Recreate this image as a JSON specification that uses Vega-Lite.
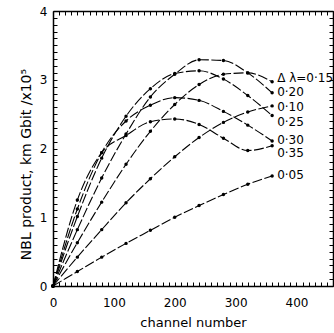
{
  "$schema": "https://vega.github.io/schema/vega-lite/v6.json",
  "width": 280,
  "height": 275,
  "autosize": {"type": "none"},
  "padding": {"left": 53, "top": 11, "right": 1, "bottom": 47},
  "background": "white",
  "config": {
    "view": {"stroke": null},
    "font": "DejaVu Sans",
    "axis": {
      "domainColor": "black",
      "domainWidth": 1.5,
      "tickColor": "black",
      "tickWidth": 1,
      "labelColor": "black",
      "titleColor": "black",
      "labelFont": "DejaVu Sans",
      "titleFont": "DejaVu Sans",
      "labelFontSize": 12,
      "titleFontWeight": "normal",
      "labelOverlap": false,
      "labelFlush": false,
      "grid": false
    }
  },
  "datasets": {
    "curves": [
      {"s": "0.05", "x": 0, "y": 0}, {"s": "0.05", "x": 40, "y": 0.21}, {"s": "0.05", "x": 80, "y": 0.42}, {"s": "0.05", "x": 120, "y": 0.62}, {"s": "0.05", "x": 160, "y": 0.81}, {"s": "0.05", "x": 200, "y": 1.0}, {"s": "0.05", "x": 240, "y": 1.17}, {"s": "0.05", "x": 280, "y": 1.33}, {"s": "0.05", "x": 320, "y": 1.48}, {"s": "0.05", "x": 360, "y": 1.6},
      {"s": "0.10", "x": 0, "y": 0}, {"s": "0.10", "x": 40, "y": 0.42}, {"s": "0.10", "x": 80, "y": 0.82}, {"s": "0.10", "x": 120, "y": 1.21}, {"s": "0.10", "x": 160, "y": 1.56}, {"s": "0.10", "x": 200, "y": 1.88}, {"s": "0.10", "x": 240, "y": 2.16}, {"s": "0.10", "x": 280, "y": 2.38}, {"s": "0.10", "x": 320, "y": 2.53}, {"s": "0.10", "x": 360, "y": 2.62},
      {"s": "0.15", "x": 0, "y": 0}, {"s": "0.15", "x": 40, "y": 0.63}, {"s": "0.15", "x": 80, "y": 1.22}, {"s": "0.15", "x": 120, "y": 1.77}, {"s": "0.15", "x": 160, "y": 2.25}, {"s": "0.15", "x": 200, "y": 2.64}, {"s": "0.15", "x": 240, "y": 2.93}, {"s": "0.15", "x": 280, "y": 3.08}, {"s": "0.15", "x": 320, "y": 3.1}, {"s": "0.15", "x": 360, "y": 2.97},
      {"s": "0.20", "x": 0, "y": 0}, {"s": "0.20", "x": 40, "y": 0.82}, {"s": "0.20", "x": 80, "y": 1.57}, {"s": "0.20", "x": 120, "y": 2.21}, {"s": "0.20", "x": 160, "y": 2.75}, {"s": "0.20", "x": 200, "y": 3.08}, {"s": "0.20", "x": 240, "y": 3.29}, {"s": "0.20", "x": 280, "y": 3.28}, {"s": "0.20", "x": 320, "y": 3.1}, {"s": "0.20", "x": 360, "y": 2.81},
      {"s": "0.25", "x": 0, "y": 0}, {"s": "0.25", "x": 40, "y": 1.01}, {"s": "0.25", "x": 80, "y": 1.86}, {"s": "0.25", "x": 120, "y": 2.47}, {"s": "0.25", "x": 160, "y": 2.87}, {"s": "0.25", "x": 200, "y": 3.09}, {"s": "0.25", "x": 240, "y": 3.13}, {"s": "0.25", "x": 280, "y": 3.01}, {"s": "0.25", "x": 320, "y": 2.77}, {"s": "0.25", "x": 360, "y": 2.48},
      {"s": "0.30", "x": 0, "y": 0}, {"s": "0.30", "x": 40, "y": 1.12}, {"s": "0.30", "x": 80, "y": 1.94}, {"s": "0.30", "x": 120, "y": 2.4}, {"s": "0.30", "x": 160, "y": 2.63}, {"s": "0.30", "x": 200, "y": 2.74}, {"s": "0.30", "x": 240, "y": 2.7}, {"s": "0.30", "x": 280, "y": 2.54}, {"s": "0.30", "x": 320, "y": 2.34}, {"s": "0.30", "x": 360, "y": 2.11},
      {"s": "0.35", "x": 0, "y": 0}, {"s": "0.35", "x": 40, "y": 1.25}, {"s": "0.35", "x": 80, "y": 1.94}, {"s": "0.35", "x": 120, "y": 2.19}, {"s": "0.35", "x": 160, "y": 2.39}, {"s": "0.35", "x": 200, "y": 2.43}, {"s": "0.35", "x": 240, "y": 2.35}, {"s": "0.35", "x": 280, "y": 2.15}, {"s": "0.35", "x": 320, "y": 1.97}, {"s": "0.35", "x": 360, "y": 2.04}
    ],
    "labels": [
      {"s": "0.15", "t": "Δ λ=0·15", "x": 360, "y": 3.03},
      {"s": "0.20", "t": "0·20", "x": 360, "y": 2.82},
      {"s": "0.10", "t": "0·10", "x": 360, "y": 2.6},
      {"s": "0.25", "t": "0·25", "x": 360, "y": 2.39},
      {"s": "0.30", "t": "0·30", "x": 360, "y": 2.13},
      {"s": "0.35", "t": "0·35", "x": 360, "y": 1.94},
      {"s": "0.05", "t": "0·05", "x": 360, "y": 1.61}
    ]
  },
  "layer": [
    {
      "data": {"name": "curves"},
      "mark": {"type": "line", "color": "black", "strokeWidth": 1.1, "interpolate": "monotone", "strokeDash": [10, 2.5]},
      "encoding": {
        "x": {"field": "x", "type": "quantitative", "scale": {"domain": [0, 460], "nice": false, "zero": true},
          "axis": {"orient": "top", "offset": -275, "title": "channel number", "titleFontSize": 13, "titleY": 40, "titleBaseline": "alphabetic",
            "values": [0,10,20,30,40,50,60,70,80,90,100,110,120,130,140,150,160,170,180,190,200,210,220,230,240,250,260,270,280,290,300,310,320,330,340,350,360,370,380,390,400,410,420,430,440,450,460],
            "labelExpr": "datum.value % 100 === 0 && datum.value < 450 ? '' + datum.value : ''",
            "labelBaseline": "top",
            "tickSize": 4,
            "labelPadding": -15}},
        "y": {"field": "y", "type": "quantitative", "scale": {"domain": [0, 4], "nice": false},
          "axis": {"orient": "right", "offset": -280, "title": "NBL product, km Gbit /x10⁵", "titleFontSize": 14, "titleX": -23, "titleY": 153, "titleBaseline": "alphabetic", "titleAngle": -90,
            "values": [0,0.1,0.2,0.3,0.4,0.5,0.6,0.7,0.8,0.9,1,1.1,1.2,1.3,1.4,1.5,1.6,1.7,1.8,1.9,2,2.1,2.2,2.3,2.4,2.5,2.6,2.7,2.8,2.9,3,3.1,3.2,3.3,3.4,3.5,3.6,3.7,3.8,3.9,4],
            "labelExpr": "abs(datum.value - round(datum.value)) < 0.001 ? '' + round(datum.value) : ''",
            "labelAlign": "right",
            "tickSize": 4,
            "labelPadding": -10}},
        "detail": {"field": "s"}
      }
    },
    {
      "data": {"name": "curves"},
      "mark": {"type": "circle", "color": "black", "size": 12, "opacity": 1},
      "encoding": {
        "x": {"field": "x", "type": "quantitative", "axis": null},
        "y": {"field": "y", "type": "quantitative", "axis": null}
      }
    },
    {
      "data": {"name": "labels"},
      "mark": {"type": "text", "align": "left", "baseline": "middle", "dx": 5, "fontSize": 12, "color": "black", "font": "DejaVu Sans"},
      "encoding": {
        "x": {"field": "x", "type": "quantitative",
          "axis": {"orient": "bottom", "offset": -275, "title": null, "labels": false, "domain": true,
            "values": [0,10,20,30,40,50,60,70,80,90,100,110,120,130,140,150,160,170,180,190,200,210,220,230,240,250,260,270,280,290,300,310,320,330,340,350,360,370,380,390,400,410,420,430,440,450,460],
            "tickSize": 4}},
        "y": {"field": "y", "type": "quantitative",
          "axis": {"orient": "left", "offset": -280, "title": null, "labels": false, "domain": true,
            "values": [0,0.1,0.2,0.3,0.4,0.5,0.6,0.7,0.8,0.9,1,1.1,1.2,1.3,1.4,1.5,1.6,1.7,1.8,1.9,2,2.1,2.2,2.3,2.4,2.5,2.6,2.7,2.8,2.9,3,3.1,3.2,3.3,3.4,3.5,3.6,3.7,3.8,3.9,4],
            "tickSize": 4}},
        "text": {"field": "t"}
      }
    }
  ],
  "resolve": {"axis": {"x": "independent", "y": "independent"}}
}
